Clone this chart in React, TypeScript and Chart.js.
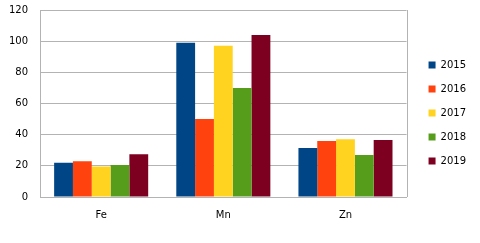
import React, { useEffect, useRef } from "react";
import { Chart, registerables } from "chart.js";

Chart.register(...registerables);

const categories = ["Fe", "Mn", "Zn"];
const seriesNames = ["2015", "2016", "2017", "2018", "2019"];
const v2015 = [22, 99, 31.5];
const v2016 = [23, 50, 36];
const v2017 = [19.5, 97, 37];
const v2018 = [20.5, 70, 27];
const v2019 = [27.5, 104, 36.5];
const seriesValues = [v2015, v2016, v2017, v2018, v2019];
const colors = ["#004586", "#ff420e", "#ffd320", "#579d1c", "#7e0021"];
const yTicks = [0, 20, 40, 60, 80, 100, 120];

const framePlugin = {
  id: "frame",
  afterLayout(chart: any) {
    const lg = chart.legend;
    if (lg) {
      lg.left += 8;
      lg.right += 8;
      lg.top -= 2;
      lg.bottom -= 2;
    }
  },
  afterDatasetsDraw(chart: any) {
    const { ctx, chartArea } = chart;
    ctx.save();
    ctx.strokeStyle = "#b3b3b3";
    ctx.lineWidth = 1;
    ctx.beginPath();
    ctx.moveTo(Math.round(chartArea.right) + 0.5, chartArea.top);
    ctx.lineTo(Math.round(chartArea.right) + 0.5, chartArea.bottom);
    ctx.moveTo(chartArea.left, Math.round(chartArea.bottom) + 0.5);
    ctx.lineTo(chartArea.right, Math.round(chartArea.bottom) + 0.5);
    ctx.stroke();
    ctx.restore();
  },
};

export default function App() {
  const ref = useRef<HTMLCanvasElement>(null);
  useEffect(() => {
    document.body.style.margin = "0";
    const chart = new Chart(ref.current!, {
      type: "bar",
      data: {
        labels: categories,
        datasets: seriesNames.map((n, i) => ({
          label: n,
          data: seriesValues[i],
          backgroundColor: colors[i],
          borderWidth: 0,
          categoryPercentage: 0.77,
          barPercentage: 1.0,
        })),
      },
      options: {
        animation: false,
        responsive: false,
        maintainAspectRatio: false,
        layout: { padding: { left: -3, right: 12, top: -3, bottom: 10 } },
        font: { family: "DejaVu Sans", size: 10 } as any,
        plugins: {
          tooltip: { enabled: false },
          legend: {
            position: "right",
            align: "center",
            labels: {
              boxWidth: 7,
              boxHeight: 7,
              padding: 14,
              color: "#000",
              font: { family: "DejaVu Sans", size: 10 },
            },
          },
        },
        scales: {
          x: {
            grid: { display: false, drawTicks: false },
            border: { display: true, color: "#b3b3b3" },
            ticks: {
              color: "#000",
              padding: 12,
              font: { family: "DejaVu Sans", size: 10 },
            },
          },
          y: {
            min: 0,
            max: 120,
            afterBuildTicks: (axis: any) => {
              axis.ticks = yTicks.map((v) => ({ value: v }));
            },
            afterFit: (axis: any) => {
              axis.paddingTop = 10;
              axis.paddingBottom = 0;
            },
            grid: { color: "#b3b3b3", drawTicks: false },
            border: { display: true, color: "#b3b3b3" },
            ticks: {
              color: "#000",
              padding: 12,
              font: { family: "DejaVu Sans", size: 10 },
            },
          },
        },
      },
      plugins: [framePlugin],
    });
    return () => chart.destroy();
  }, []);
  return (
    <div style={{ position: "absolute", left: 0, top: 0, width: 480, height: 243 }}>
      <canvas ref={ref} width={480} height={243} />
    </div>
  );
}
